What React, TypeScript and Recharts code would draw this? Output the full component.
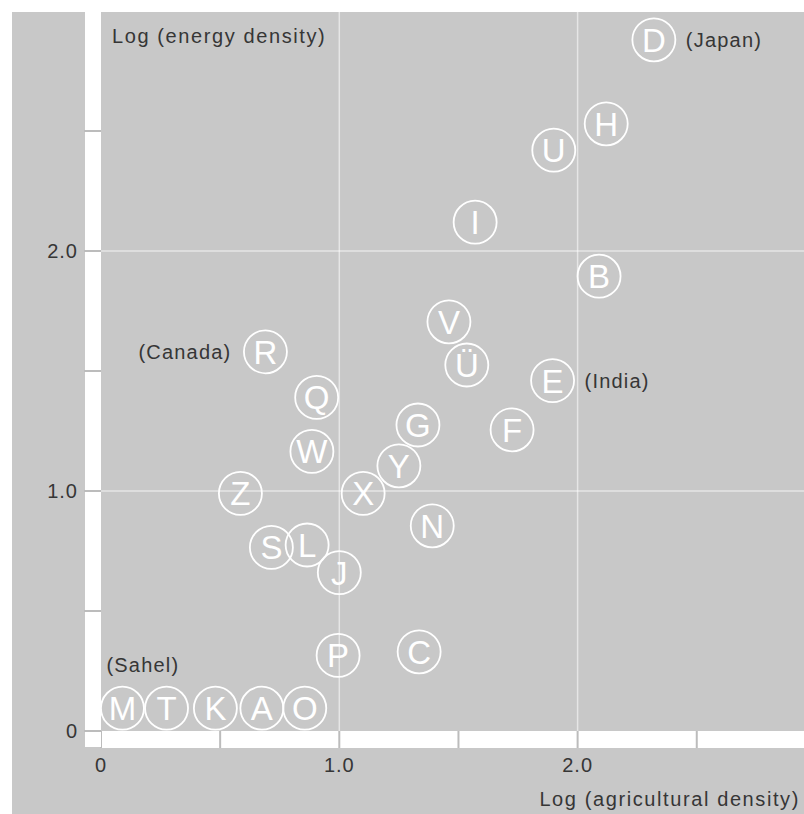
import { ScatterChart, Scatter, XAxis, YAxis, ReferenceLine } from 'recharts'

// Country group codes with log agricultural density (x) and log energy density (y)
const codes = ['D', 'H', 'U', 'I', 'B', 'V', 'Ü', 'E', 'R', 'Q', 'F', 'G', 'W', 'Y', 'Z', 'X', 'N', 'S', 'L', 'J', 'P', 'C', 'M', 'T', 'K', 'A', 'O']
const agriDensity = [2.32, 2.12, 1.9, 1.57, 2.09, 1.46, 1.535, 1.895, 0.69, 0.905, 1.725, 1.33, 0.885, 1.25, 0.585, 1.1, 1.39, 0.715, 0.865, 1.0, 0.995, 1.335, 0.09, 0.275, 0.48, 0.675, 0.855]
const energyDensity = [2.88, 2.53, 2.42, 2.12, 1.895, 1.705, 1.525, 1.46, 1.58, 1.39, 1.255, 1.275, 1.165, 1.105, 0.99, 0.99, 0.855, 0.765, 0.775, 0.66, 0.315, 0.33, 0.095, 0.095, 0.095, 0.095, 0.095]

// Named examples written next to their circles
const noteCodes = ['D', 'E', 'R', 'M']
const noteTexts = ['(Japan)', '(India)', '(Canada)', '(Sahel)']
const noteSides = ['right', 'right', 'left', 'above']

const axisTicks = [0, 0.5, 1, 1.5, 2, 2.5]

const data = codes.map((code, i) => {
  const n = noteCodes.indexOf(code)
  return {
    code,
    x: agriDensity[i],
    y: energyDensity[i],
    note: n >= 0 ? noteTexts[n] : null,
    side: n >= 0 ? noteSides[n] : null,
  }
})

const FONT = '"Liberation Sans", Arial, sans-serif'
const INK = '#363636'
const PAPER = '#c8c8c8'

const fmtTick = (v: number) => (v === 0 ? '0' : v % 1 === 0 ? v.toFixed(1) : '')

function Badge(props: any) {
  const { cx, cy, payload } = props
  let note = null
  if (payload.note) {
    let nx = cx + 32
    let ny = cy
    let anchor: 'start' | 'end' = 'start'
    if (payload.side === 'left') {
      nx = cx - 34
      anchor = 'end'
    } else if (payload.side === 'above') {
      nx = cx - 16
      ny = cy - 43
    }
    note = (
      <text x={nx} y={ny + 7} textAnchor={anchor} fill={INK} fontSize={20} letterSpacing={1.2} fontFamily={FONT}>
        {payload.note}
      </text>
    )
  }
  return (
    <g>
      <circle cx={cx} cy={cy} r={21.5} fill="none" stroke="#fff" strokeWidth={1.8} />
      <text x={cx} y={cy + 12} textAnchor="middle" fill="#fff" fontSize={33} fontFamily={FONT}>
        {payload.code}
      </text>
      {note}
    </g>
  )
}

function YTitle({ viewBox }: any) {
  return (
    <text x={viewBox.x + viewBox.width + 11} y={viewBox.y + 32} fill={INK} fontSize={20} letterSpacing={1.6} fontFamily={FONT}>
      Log (energy density)
    </text>
  )
}

function XTitle({ viewBox }: any) {
  return (
    <text x={viewBox.x + viewBox.width - 4} y={viewBox.y + 75} textAnchor="end" fill={INK} fontSize={20} letterSpacing={1.6} fontFamily={FONT}>
      Log (agricultural density)
    </text>
  )
}

export default function App() {
  return (
    <div style={{ position: 'absolute', left: 0, top: 0, width: 804, height: 814, background: '#fff' }}>
      <div style={{ position: 'absolute', left: 12, top: 12, width: 792, height: 802, background: PAPER }} />
      <div style={{ position: 'absolute', left: 0, top: 0 }}>
        <ScatterChart width={804} height={814} margin={{ top: 11, right: 0, bottom: 0, left: 12 }}>
          <ReferenceLine x={1} stroke="#fff" strokeOpacity={0.55} strokeWidth={1.5} />
          <ReferenceLine x={2} stroke="#fff" strokeOpacity={0.55} strokeWidth={1.5} />
          <ReferenceLine y={1} stroke="#fff" strokeOpacity={0.55} strokeWidth={1.5} />
          <ReferenceLine y={2} stroke="#fff" strokeOpacity={0.55} strokeWidth={1.5} />
          <XAxis
            type="number"
            dataKey="x"
            domain={[0, 2.95]}
            allowDataOverflow
            ticks={axisTicks}
            tickFormatter={fmtTick}
            height={83}
            tickSize={17}
            tickMargin={10}
            axisLine={{ stroke: '#fff', strokeWidth: 17, transform: 'translate(0 8.5)' }}
            tickLine={{ stroke: '#bcbcbc', strokeWidth: 2 }}
            tick={{ fill: INK, fontSize: 20, fontFamily: FONT, letterSpacing: 1 }}
            label={<XTitle />}
          />
          <YAxis
            type="number"
            dataKey="y"
            domain={[0, 3]}
            allowDataOverflow
            ticks={axisTicks}
            tickFormatter={fmtTick}
            width={89}
            tickSize={17}
            tickMargin={6}
            axisLine={{ stroke: '#fff', strokeWidth: 16, strokeLinecap: 'square', transform: 'translate(-8 8)' }}
            tickLine={{ stroke: '#bcbcbc', strokeWidth: 2 }}
            tick={{ fill: INK, fontSize: 20, fontFamily: FONT, letterSpacing: 1 }}
            label={<YTitle />}
          />
          <Scatter data={data} shape={<Badge />} isAnimationActive={false} />
        </ScatterChart>
      </div>
    </div>
  )
}
